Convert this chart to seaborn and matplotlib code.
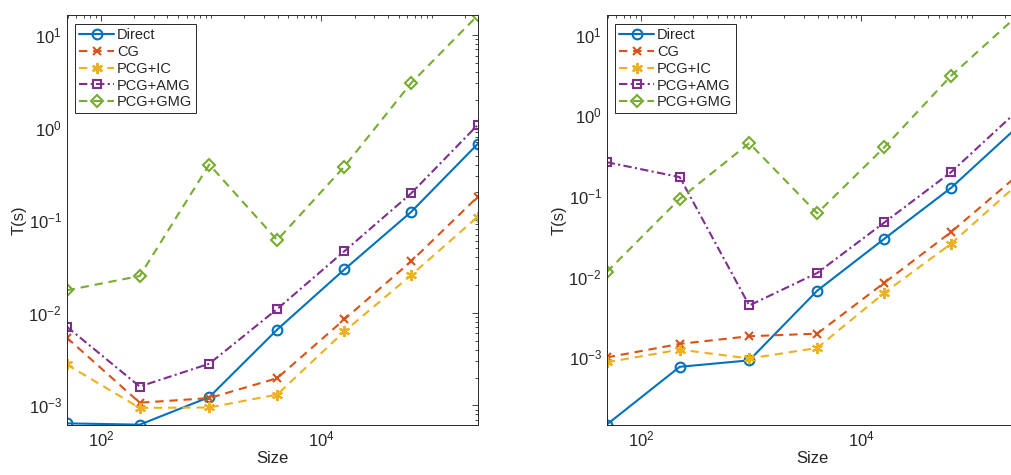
import numpy as np
import pandas as pd
import seaborn as sns
import matplotlib.pyplot as plt
import matplotlib.ticker as mtick

# problem sizes (same for both panels)
sizes = [49, 225, 961, 3969, 16129, 65025, 261121]
methods = ["Direct", "CG", "PCG+IC", "PCG+AMG", "PCG+GMG"]

# left panel timings (s)
left_direct = [6.4e-4, 6.2e-4, 1.23e-3, 6.6e-3, 0.0294, 0.123, 0.667]
left_cg = [5.4e-3, 1.07e-3, 1.2e-3, 1.97e-3, 8.5e-3, 0.036, 0.179]
left_ic = [2.77e-3, 9.4e-4, 9.5e-4, 1.31e-3, 6.3e-3, 0.0255, 0.109]
left_amg = [7.1e-3, 1.6e-3, 2.82e-3, 0.011, 0.0463, 0.195, 1.07]
left_gmg = [0.0175, 0.025, 0.40, 0.061, 0.38, 3.03, 16.3]

# right panel timings (s)
right_direct = [1.47e-4, 7.65e-4, 9.2e-4, 6.7e-3, 0.0295, 0.126, 0.72]
right_cg = [1.0e-3, 1.47e-3, 1.83e-3, 1.97e-3, 8.4e-3, 0.0357, 0.18]
right_ic = [8.7e-4, 1.25e-3, 9.7e-4, 1.31e-3, 6.3e-3, 0.0256, 0.14]
right_amg = [0.262, 0.171, 4.4e-3, 0.0111, 0.0469, 0.197, 1.14]
right_gmg = [0.0114, 0.092, 0.45, 0.061, 0.40, 3.08, 17.2]

colors = ["#0072BD", "#D95319", "#EDB120", "#7E2F8E", "#77AC30"]
markers = ["o", "x", (6, 2, 0), "s", "D"]
msizes = [7, 6, 8, 6, 6]
styles = ["-", (0, (4, 2.8)), (0, (4, 2.8)), (0, (4, 1.6, 1, 1.6)), (0, (4, 2.8))]

sns.set_theme(style="white")
plt.rcParams["font.family"] = ["Liberation Sans", "DejaVu Sans"]
plt.rcParams["mathtext.fontset"] = "custom"
plt.rcParams["mathtext.rm"] = "Liberation Sans"
plt.rcParams["mathtext.it"] = "Liberation Sans:italic"
plt.rcParams["mathtext.bf"] = "Liberation Sans:bold"

axis_grey = "#262626"


def draw_panel(ax, series):
    for name, vals, c, m, ms, ls in zip(methods, series, colors, markers, msizes, styles):
        df = pd.DataFrame({"Size": sizes, "T": vals})
        sns.lineplot(data=df, x="Size", y="T", ax=ax, color=c, marker=m, linestyle=ls,
                     linewidth=1.5, markersize=ms, markerfacecolor="none",
                     markeredgecolor=c, markeredgewidth=1.5, label=name, legend=False)
    ax.set_xscale("log")
    ax.set_yscale("log")
    allv = np.concatenate([np.array(s) for s in series])
    ax.set_xlim(min(sizes), max(sizes))
    ax.set_ylim(allv.min(), allv.max())

    ax.xaxis.set_major_locator(mtick.FixedLocator([1e2, 1e4]))
    ax.xaxis.set_minor_locator(mtick.LogLocator(base=10, subs=np.arange(1, 10), numticks=50))
    ax.xaxis.set_major_formatter(mtick.LogFormatterSciNotation())
    ax.xaxis.set_minor_formatter(mtick.NullFormatter())
    ax.yaxis.set_major_locator(mtick.LogLocator(base=10, numticks=20))
    ax.yaxis.set_minor_locator(mtick.LogLocator(base=10, subs=np.arange(2, 10), numticks=50))
    ax.yaxis.set_minor_formatter(mtick.NullFormatter())

    ax.tick_params(which="both", direction="in", top=True, right=True, colors=axis_grey,
                   labelsize=12, width=0.6)
    ax.tick_params(which="major", length=4)
    ax.tick_params(which="minor", length=2.5)
    for sp in ax.spines.values():
        sp.set_color(axis_grey)
        sp.set_linewidth(0.7)
    ax.set_xlabel("Size", fontsize=12, color=axis_grey, labelpad=1)
    ax.set_ylabel("T(s)", fontsize=12, color=axis_grey, labelpad=1)
    leg = ax.legend(loc="upper left", fontsize=10.5, frameon=True, fancybox=False,
                    edgecolor=axis_grey, framealpha=1, borderaxespad=0.6, borderpad=0.25,
                    labelspacing=0.2, handlelength=2.4, handletextpad=0.2)
    leg.get_frame().set_linewidth(0.7)


fig = plt.figure(figsize=(10.11, 4.75), dpi=100)
ax1 = fig.add_axes([0.066, 0.106, 0.4065, 0.8615])
ax2 = fig.add_axes([0.6001, 0.106, 0.4065, 0.8615])

draw_panel(ax1, [left_direct, left_cg, left_ic, left_amg, left_gmg])
draw_panel(ax2, [right_direct, right_cg, right_ic, right_amg, right_gmg])

fig.savefig("out.png", dpi=100)
